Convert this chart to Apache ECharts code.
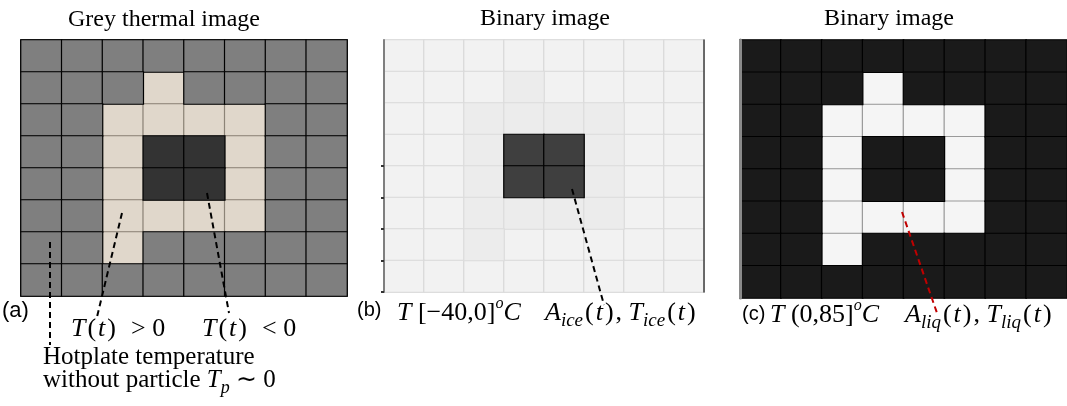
<!DOCTYPE html>
<html>
<head>
<meta charset="utf-8">
<script src="https://cdn.jsdelivr.net/npm/echarts@6/dist/echarts.min.js"></script>
<style>html,body{margin:0;padding:0;background:#fff}#chart{width:1067px;height:406px}</style>
</head>
<body>
<div id="chart"></div>
<script>
// ---- data ----
const columns = ['c1','c2','c3','c4','c5','c6','c7','c8'];
const rows = ['r1','r2','r3','r4','r5','r6','r7','r8'];
const panelTitles = ['Grey thermal image', 'Binary image', 'Binary image'];
// (a) 0 = hotplate (T~0), 1 = T(t) > 0, 2 = T(t) < 0
const greyImage = [
  [0,0,0,0,0,0,0,0],
  [0,0,0,1,0,0,0,0],
  [0,0,1,1,1,1,0,0],
  [0,0,1,2,2,1,0,0],
  [0,0,1,2,2,1,0,0],
  [0,0,1,1,1,1,0,0],
  [0,0,1,0,0,0,0,0],
  [0,0,0,0,0,0,0,0]
];
// (b) 0 = background, 1 = faint residue, 2 = ice (T in [-40,0])
const iceImage = [
  [0,0,0,0,0,0,0,0],
  [0,0,0,1,0,0,0,0],
  [0,0,1,1,1,1,0,0],
  [0,0,1,2,2,1,0,0],
  [0,0,1,2,2,1,0,0],
  [0,0,1,1,1,1,0,0],
  [0,0,1,0,0,0,0,0],
  [0,0,0,0,0,0,0,0]
];
// (c) 0 = background, 1 = liquid (T in (0,85])
const liqImage = [
  [0,0,0,0,0,0,0,0],
  [0,0,0,1,0,0,0,0],
  [0,0,1,1,1,1,0,0],
  [0,0,1,0,0,1,0,0],
  [0,0,1,0,0,1,0,0],
  [0,0,1,1,1,1,0,0],
  [0,0,1,0,0,0,0,0],
  [0,0,0,0,0,0,0,0]
];

// ---- styles ----
const palA = ['#7f7f7f', '#e0d7cb', '#333333'];
const borderA = ['#000000', '#8c8377', '#000000'];
const orderA = [1, 0, 2];
const palB = ['#f2f2f2', '#ececec', '#3f3f3f'];
const borderB = ['#d9d9d9', '#dcdcdc', '#000000'];
const orderB = [0, 1, 2];
const palC = ['#1a1a1a', '#f5f5f5'];
const borderC = ['#000000', '#9a9a9a'];
const orderC = [1, 0];

function buildData(matrix, borders, order) {
  const out = [];
  matrix.forEach((row, r) => row.forEach((v, c) => {
    out.push({ value: [c, r, v], itemStyle: { borderColor: borders[v] }, _o: order.indexOf(v) });
  }));
  out.sort((a, b) => a._o - b._o);
  return out.map(d => ({ value: d.value, itemStyle: d.itemStyle }));
}
function pieces(pal) { return pal.map((c, i) => ({ value: i, color: c })); }

const grids = [
  { left: 21, top: 40, width: 326, height: 256, show: true, borderColor: '#000', borderWidth: 1.5 },
  { left: 384, top: 40, width: 320, height: 252, show: true, borderColor: '#d9d9d9', borderWidth: 1 },
  { left: 740, top: 40, width: 333, height: 258, show: false }
];
function xAx(g) {
  return { type: 'category', gridIndex: g, data: columns, show: false };
}
function yAx(g, extra) {
  return Object.assign({ type: 'category', gridIndex: g, data: rows, inverse: true,
    axisLabel: { show: false }, axisTick: { show: false }, axisLine: { show: false },
    splitLine: { show: false }, z: 5 }, extra || {});
}

const serif = 'Liberation Serif';
function richSet(fs) {
  return {
    n: { fontFamily: serif, fontSize: fs, lineHeight: 34, color: '#000' },
    i: { fontFamily: serif, fontSize: fs, fontStyle: 'italic', lineHeight: 34, color: '#000' },
    p: { fontFamily: serif, fontSize: fs, lineHeight: 34, color: '#000', padding: [0, 2, 0, 2] },
    s: { fontFamily: serif, fontSize: fs - 7, fontStyle: 'italic', lineHeight: 17, verticalAlign: 'bottom', color: '#000' },
    o: { fontFamily: serif, fontSize: 16, fontStyle: 'italic', lineHeight: 25, verticalAlign: 'top', color: '#000' }
  };
}
function mathText(x, y, text, fs) {
  fs = fs || 25;
  return { type: 'text', x: x, y: y, z: 20,
    style: { text: text, rich: richSet(fs), verticalAlign: 'middle', align: 'left', fill: '#000',
      fontFamily: serif, fontSize: fs } };
}
function plainText(x, y, text, font, align) {
  return { type: 'text', x: x, y: y, z: 20,
    style: { text: text, font: font, fill: '#000', verticalAlign: 'middle', align: align || 'left' } };
}
function dash(x1, y1, x2, y2, color) {
  return { type: 'line', z: 15, shape: { x1: x1, y1: y1, x2: x2, y2: y2 },
    style: { stroke: color || '#000', lineWidth: 2, lineDash: [6, 4] } };
}

const option = {
  animation: false,
  grid: grids,
  xAxis: [xAx(0), xAx(1), xAx(2)],
  yAxis: [
    yAx(0),
    yAx(1, { axisLine: { show: true, lineStyle: { color: '#7f7f7f', width: 2 } },
      axisTick: { show: true, length: 3, interval: function (i) { return i >= 4; },
        lineStyle: { color: '#333', width: 2 } } }),
    yAx(2, { axisLine: { show: true, lineStyle: { color: '#8a8a8a', width: 3 } } }),
    yAx(1, { position: 'right', axisLine: { show: true, lineStyle: { color: '#404040', width: 1.5 } } })
  ],
  visualMap: [
    { type: 'piecewise', show: false, seriesIndex: 0, dimension: 2, pieces: pieces(palA) },
    { type: 'piecewise', show: false, seriesIndex: 1, dimension: 2, pieces: pieces(palB) },
    { type: 'piecewise', show: false, seriesIndex: 2, dimension: 2, pieces: pieces(palC) }
  ],
  series: [
    { type: 'heatmap', xAxisIndex: 0, yAxisIndex: 0, data: buildData(greyImage, borderA, orderA),
      itemStyle: { borderWidth: 1.2 }, emphasis: { disabled: true } },
    { type: 'heatmap', xAxisIndex: 1, yAxisIndex: 1, data: buildData(iceImage, borderB, orderB),
      itemStyle: { borderWidth: 1.2 }, emphasis: { disabled: true } },
    { type: 'heatmap', xAxisIndex: 2, yAxisIndex: 2, data: buildData(liqImage, borderC, orderC),
      itemStyle: { borderWidth: 1.2 }, emphasis: { disabled: true } }
  ],
  graphic: [
    plainText(164, 20, panelTitles[0], '24px "Liberation Serif"', 'center'),
    plainText(545, 19, panelTitles[1], '24px "Liberation Serif"', 'center'),
    plainText(889, 19, panelTitles[2], '24px "Liberation Serif"', 'center'),
    dash(50, 242, 50, 345),
    dash(122, 213, 97, 317),
    dash(207, 193, 229, 313),
    dash(572, 189, 604, 305),
    dash(902, 212, 937, 313, '#c00000'),
    plainText(2, 311, '(a)', '22px "Liberation Sans"'),
    mathText(71, 329, '{i|T}{p|(}{i|t}{p|)}{n|  > 0}', 26),
    mathText(202, 329, '{i|T}{p|(}{i|t}{p|)}{n|  < 0}', 26),
    plainText(43, 357, 'Hotplate temperature', '25px "Liberation Serif"'),
    mathText(43, 380, '{n|without particle }{i|T}{s|p}{n| ∼ 0}', 25),
    plainText(357, 310, '(b)', '20px "Liberation Sans"'),
    mathText(397, 313, '{i|T}{n| [−40,0]}{o|o}{i|C}', 26),
    mathText(545, 313, '{i|A}{s|ice}{p|(}{i|t}{p|)}{n|, }{i|T}{s|ice}{p|(}{i|t}{p|)}', 26),
    plainText(742, 314, '(c)', '20px "Liberation Sans"'),
    mathText(770, 315, '{i|T}{n| (0,85]}{o|o}{i|C}', 26),
    mathText(905, 315, '{i|A}{s|liq}{p|(}{i|t}{p|)}{n|, }{i|T}{s|liq}{p|(}{i|t}{p|)}', 26)
  ]
};
const chart = echarts.init(document.getElementById('chart'), null, { renderer: 'canvas' });
chart.setOption(option);
</script>
</body>
</html>
